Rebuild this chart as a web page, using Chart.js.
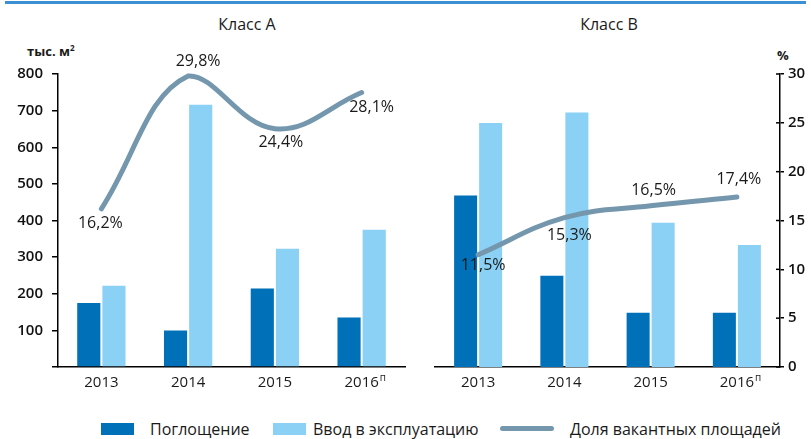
<!DOCTYPE html>
<html>
<head>
<meta charset="utf-8">
<script src="https://cdn.jsdelivr.net/npm/chart.js@4/dist/chart.umd.min.js"></script>
<style>
  body { margin: 0; background: #fff; font-family: "Open Sans", sans-serif; color: #1a1a1a; }
  #page { position: relative; width: 811px; height: 439px; overflow: hidden; }
  .box { position: absolute; }
  .txt { position: absolute; font-size: 16px; line-height: 20px; white-space: nowrap; }
</style>
</head>
<body>
<div id="page">
  <div class="box" style="left:5px;top:1px;width:801px;height:3px;background:#3d8fd1"></div>
  <div class="txt" style="left:187px;top:14px;width:120px;text-align:center">Класс А</div>
  <div class="txt" style="left:549px;top:14px;width:120px;text-align:center">Класс В</div>
  <div class="txt" style="left:27px;top:38px;font-size:13px;font-weight:bold">тыс. м<sup style="font-size:8px">2</sup></div>
  <div class="txt" style="left:777px;top:45px;font-size:13px;font-weight:bold">%</div>

  <div class="box" style="left:0;top:0;width:420px;height:400px"><canvas id="chartA"></canvas></div>
  <div class="box" style="left:420px;top:0;width:391px;height:400px"><canvas id="chartB"></canvas></div>

  <div class="box" style="left:101px;top:423px;width:33px;height:12px;background:#0070b8"></div>
  <div class="txt" style="left:150px;top:419px">Поглощение</div>
  <div class="box" style="left:273px;top:423px;width:33px;height:12px;background:#8bd0f5"></div>
  <div class="txt" style="left:313px;top:419px">Ввод в эксплуатацию</div>
  <div class="box" style="left:500px;top:426px;width:54px;height:5px;border-radius:3px;background:#7497ae"></div>
  <div class="txt" style="left:570px;top:419px">Доля вакантных площадей</div>
</div>
<script>
// data
const categories = ['2013', '2014', '2015', '2016п'];
const absorptionA = [175, 100, 214, 135];
const commissioningA = [222, 716, 323, 375];
const vacancyA = [16.2, 29.8, 24.4, 28.1];
const absorptionB = [468, 249, 148, 148];
const commissioningB = [666, 695, 394, 333];
const vacancyB = [11.5, 15.3, 16.5, 17.4];
const areaMax = 800, areaStep = 100;
const pctMax = 30, pctStep = 5;

const darkBlue = '#0070b8';
const lightBlue = '#8bd0f5';
const lineColor = '#7497ae';
const FONT = '"Open Sans", sans-serif';

// where each percent label sits relative to its point (px)
const labelOffsetsA = [[-1, 15], [10, -15], [6, 14], [10, 15]];
const labelOffsetsB = [[5, 11], [5, 18], [3, -15], [2, -18]];

function fmtPct(v) {
    return v.toFixed(1).replace('.', ',') + '%';
}

const decorPlugin = {
    id: 'decor',
    afterDatasetsDraw(chart) {
        const ctx = chart.ctx;
        const offs = chart.options.plugins.decor.offsets;
        const meta = chart.getDatasetMeta(0);
        const values = chart.data.datasets[0].data;
        ctx.save();
        ctx.font = '16px ' + FONT;
        ctx.fillStyle = '#1a1a1a';
        ctx.textAlign = 'center';
        ctx.textBaseline = 'middle';
        meta.data.forEach((pt, i) => {
            ctx.fillText(fmtPct(values[i]), pt.x + offs[i][0], pt.y + offs[i][1]);
        });
        // superscript "п" after forecast year
        const xs = chart.scales.x;
        categories.forEach((c, i) => {
            if (c.endsWith('п')) {
                ctx.font = '15px ' + FONT;
                const w = ctx.measureText(c.slice(0, -1)).width;
                ctx.font = '10px ' + FONT;
                ctx.textAlign = 'left';
                ctx.fillText('п', xs.getPixelForTick(i) + w / 2 + 1, xs.top + 11);
            }
        });
        // inner half of right axis ticks
        const y1 = chart.scales.y1;
        if (y1.options.display) {
            ctx.strokeStyle = '#000';
            ctx.lineWidth = 1.5;
            y1.ticks.forEach((t, i) => {
                const y = y1.getPixelForTick(i);
                ctx.beginPath();
                ctx.moveTo(y1.left - 4, y);
                ctx.lineTo(y1.left, y);
                ctx.stroke();
            });
        }
        ctx.restore();
    }
};

function makeChart(id, absorption, commissioning, vacancy, offsets, showLeft, showRight) {
    return new Chart(document.getElementById(id), {
        type: 'bar',
        data: {
            labels: categories,
            datasets: [
                {
                    type: 'line',
                    label: 'Доля вакантных площадей',
                    data: vacancy,
                    yAxisID: 'y1',
                    borderColor: lineColor,
                    borderWidth: 5,
                    borderCapStyle: 'round',
                    tension: 0.4,
                    pointRadius: 0,
                    clip: false,
                    order: 0
                },
                {
                    label: 'Поглощение',
                    data: absorption,
                    backgroundColor: darkBlue,
                    categoryPercentage: 0.58,
                    barPercentage: 0.92,
                    order: 1
                },
                {
                    label: 'Ввод в эксплуатацию',
                    data: commissioning,
                    backgroundColor: lightBlue,
                    categoryPercentage: 0.58,
                    barPercentage: 0.92,
                    order: 1
                }
            ]
        },
        options: {
            responsive: true,
            maintainAspectRatio: false,
            animation: false,
            layout: {
                padding: showLeft ? { top: 74, right: 15, left: 0, bottom: 0 } : { top: 74, left: 15, right: 0, bottom: 0 }
            },
            plugins: {
                legend: { display: false },
                tooltip: { enabled: false },
                decor: { offsets: offsets }
            },
            scales: {
                x: {
                    grid: { display: false, drawTicks: false },
                    border: { display: true, color: '#000', width: 1.5 },
                    ticks: {
                        padding: 7,
                        color: '#1a1a1a',
                        font: { family: FONT, size: 15 },
                        callback: (v, i) => categories[i].replace('п', '')
                    },
                    afterFit: (s) => { s.height = 33; }
                },
                y: {
                    display: showLeft,
                    min: 0,
                    max: areaMax,
                    grid: { drawOnChartArea: false, drawTicks: true, tickLength: 6, color: '#000', lineWidth: 1.5 },
                    border: { display: true, color: '#000', width: 1.5 },
                    ticks: {
                        stepSize: areaStep,
                        padding: 9,
                        color: '#111',
                        font: { family: FONT, size: 15, weight: '600' },
                        callback: (v) => (v === 0 ? '' : v)
                    },
                    afterFit: (s) => { s.width = showLeft ? 58 : 0; }
                },
                y1: {
                    display: showRight,
                    position: 'right',
                    min: 0,
                    max: pctMax,
                    grid: { drawOnChartArea: false, drawTicks: true, tickLength: 4, color: '#000', lineWidth: 1.5 },
                    border: { display: true, color: '#000', width: 1.5 },
                    ticks: {
                        stepSize: pctStep,
                        padding: 4,
                        color: '#111',
                        font: { family: FONT, size: 15, weight: '600' }
                    },
                    afterFit: (s) => { s.width = showRight ? 31 : 0; }
                }
            }
        },
        plugins: [decorPlugin]
    });
}

makeChart('chartA', absorptionA, commissioningA, vacancyA, labelOffsetsA, true, false);
makeChart('chartB', absorptionB, commissioningB, vacancyB, labelOffsetsB, false, true);
</script>
</body>
</html>
